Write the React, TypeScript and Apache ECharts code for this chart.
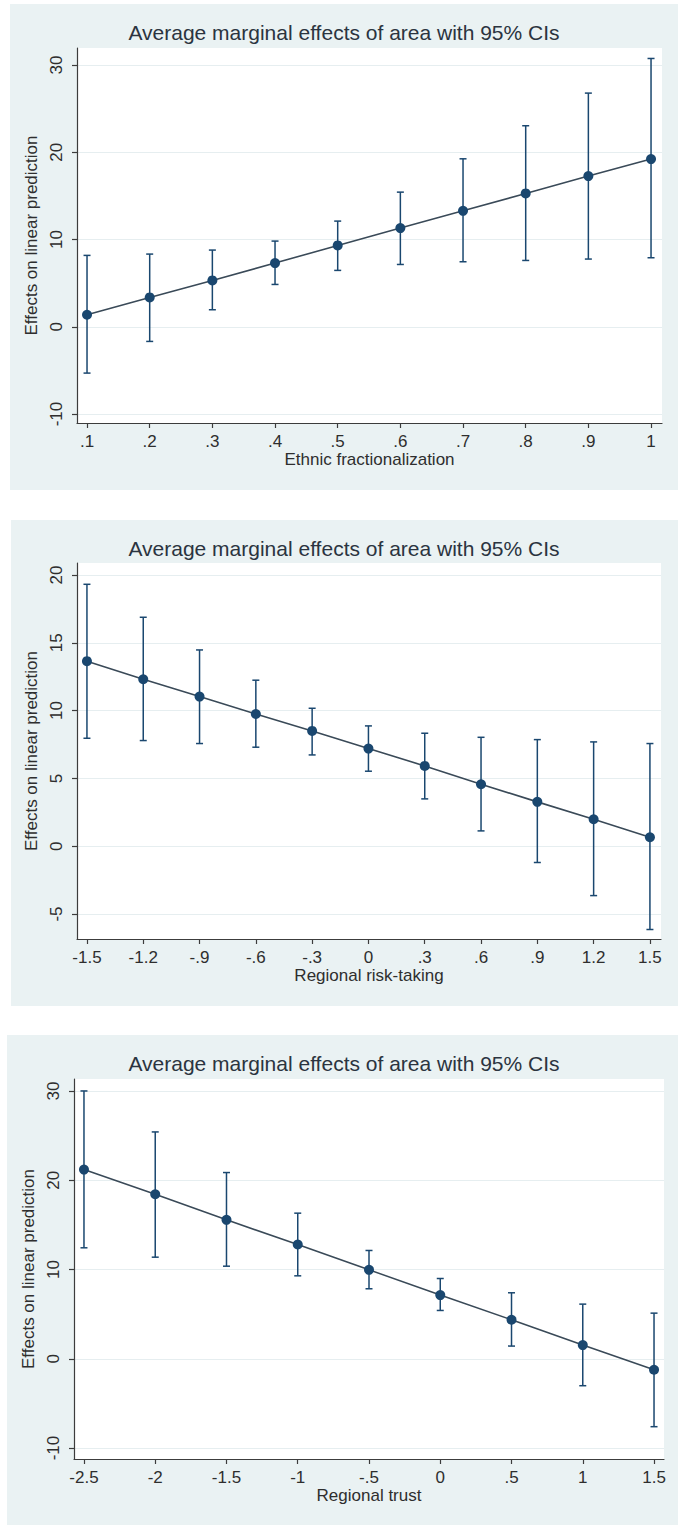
import React, { useEffect, useRef } from "react";
import * as echarts from "echarts";

// ---------- DATA ----------
const TITLE = "Average marginal effects of area with 95% CIs";
const Y_NAME = "Effects on linear prediction";

// Panel 1: Ethnic fractionalization
const x1 = [0.1, 0.2, 0.3, 0.4, 0.5, 0.6, 0.7, 0.8, 0.9, 1.0];
const x1Labels = [".1", ".2", ".3", ".4", ".5", ".6", ".7", ".8", ".9", "1"];
const ef1 = [1.38, 3.36, 5.31, 7.3, 9.32, 11.31, 13.29, 15.28, 17.27, 19.22];
const lo1 = [-5.31, -1.68, 1.95, 4.85, 6.46, 7.14, 7.45, 7.6, 7.76, 7.91];
const hi1 = [8.18, 8.33, 8.79, 9.82, 12.11, 15.43, 19.25, 23.04, 26.78, 30.75];
const y1Ticks = [-10, 0, 10, 20, 30];

// Panel 2: Regional risk-taking
const x2 = [-1.5, -1.2, -0.9, -0.6, -0.3, 0, 0.3, 0.6, 0.9, 1.2, 1.5];
const x2Labels = ["-1.5", "-1.2", "-.9", "-.6", "-.3", "0", ".3", ".6", ".9", "1.2", "1.5"];
const ef2 = [13.64, 12.31, 11.03, 9.75, 8.5, 7.2, 5.92, 4.57, 3.27, 1.99, 0.66];
const lo2 = [7.96, 7.79, 7.57, 7.3, 6.73, 5.53, 3.49, 1.13, -1.2, -3.64, -6.14];
const hi2 = [19.31, 16.88, 14.47, 12.24, 10.17, 8.87, 8.33, 8.03, 7.86, 7.69, 7.57];
const y2Ticks = [-5, 0, 5, 10, 15, 20];

// Panel 3: Regional trust
const x3 = [-2.5, -2, -1.5, -1, -0.5, 0, 0.5, 1, 1.5];
const x3Labels = ["-2.5", "-2", "-1.5", "-1", "-.5", "0", ".5", "1", "1.5"];
const ef3 = [21.19, 18.43, 15.56, 12.8, 9.96, 7.13, 4.37, 1.53, -1.23];
const lo3 = [12.43, 11.38, 10.37, 9.29, 7.84, 5.41, 1.42, -3.02, -7.61];
const hi3 = [30.0, 25.41, 20.86, 16.31, 12.13, 8.99, 7.39, 6.12, 5.11];
const y3Ticks = [-10, 0, 10, 20, 30];

const xNames = ["Ethnic fractionalization", "Regional risk-taking", "Regional trust"];

// ---------- STYLE ----------
const FONT = "Liberation Sans, Arial, sans-serif";
const NAVY = "#1a476f";
const LINE = "#3a4a58";
const AXIS = "#3c3c3c";
const TEXT = "#2e2e2e";
const BG = "#eaf2f3";
const GRIDLINE = "#e6eef0";

function fmt(xs: number[], labels: string[]) {
  return (v: number) => {
    for (let i = 0; i < xs.length; i++) if (Math.abs(xs[i] - v) < 1e-6) return labels[i];
    return "";
  };
}

export default function App() {
  const ref = useRef<HTMLDivElement>(null);
  useEffect(() => {
    document.body.style.margin = "0";
    if (!ref.current) return;
    const chart = echarts.init(ref.current, undefined, { renderer: "svg" });

    const panels = [
      { xs: x1, labels: x1Labels, ef: ef1, lo: lo1, hi: hi1, yt: y1Ticks,
        grid: { left: 77, top: 48, width: 585, height: 375 },
        xr: [0.084, 1.0175], yr: [-11.03, 31.95],
        bg: { x: 10, y: 4, width: 668, height: 486 }, titleY: 32 },
      { xs: x2, labels: x2Labels, ef: ef2, lo: lo2, hi: hi2, yt: y2Ticks,
        grid: { left: 77, top: 563, width: 584, height: 376 },
        xr: [-1.553, 1.559], yr: [-6.84, 20.88],
        bg: { x: 11, y: 520, width: 667, height: 486 }, titleY: 548 },
      { xs: x3, labels: x3Labels, ef: ef3, lo: lo3, hi: hi3, yt: y3Ticks,
        grid: { left: 74, top: 1079, width: 590, height: 380 },
        xr: [-2.57, 1.57], yr: [-11.23, 31.34],
        bg: { x: 7, y: 1035, width: 671, height: 490 }, titleY: 1063 },
    ];

    const grids: any[] = [];
    const xAxes: any[] = [];
    const yAxes: any[] = [];
    const series: any[] = [];
    const graphics: any[] = [];

    panels.forEach((p, gi) => {
      graphics.push({ type: "rect", z: -100, shape: p.bg, style: { fill: BG }, silent: true });
      graphics.push({
        type: "text", z: 100, x: 344, y: p.titleY,
        style: { text: TITLE, align: "center", verticalAlign: "middle", fontSize: 21, fontFamily: FONT, fill: "#2b3440" },
      });
      grids.push({ ...p.grid, show: true, backgroundColor: "#ffffff", borderWidth: 0, containLabel: false });
      xAxes.push({
        type: "value", gridIndex: gi, min: p.xr[0], max: p.xr[1],
        name: xNames[gi], nameLocation: "middle", nameGap: 28,
        nameTextStyle: { fontSize: 17, fontFamily: FONT, color: TEXT },
        axisLine: { show: true, onZero: false, lineStyle: { color: AXIS, width: 1.2 } },
        axisTick: { show: true, length: 5, customValues: p.xs, lineStyle: { color: AXIS, width: 1.2 } },
        axisLabel: { customValues: p.xs, formatter: fmt(p.xs, p.labels), fontSize: 17, fontFamily: FONT, color: TEXT, margin: 10 },
        splitLine: { show: false },
      });
      yAxes.push({
        type: "value", gridIndex: gi, min: p.yr[0], max: p.yr[1],
        name: Y_NAME, nameLocation: "middle", nameGap: 30, nameRotate: 90,
        nameTextStyle: { fontSize: 17, fontFamily: FONT, color: TEXT },
        axisLine: { show: true, onZero: false, lineStyle: { color: AXIS, width: 1.2 } },
        axisTick: { show: true, length: 5, customValues: p.yt, lineStyle: { color: AXIS, width: 1.2 } },
        axisLabel: { customValues: p.yt, rotate: 90, fontSize: 17, fontFamily: FONT, color: TEXT, margin: 12 },
        splitLine: { show: true, lineStyle: { color: GRIDLINE, width: 1 } },
      });
      series.push({
        type: "custom", xAxisIndex: gi, yAxisIndex: gi, z: 2,
        data: p.xs.map((v, i) => [v, p.lo[i], p.hi[i]]),
        encode: { x: 0, y: [1, 2] },
        renderItem: (params: any, api: any) => {
          const x = api.value(0);
          const a = api.coord([x, api.value(1)]);
          const b = api.coord([x, api.value(2)]);
          const w = 3.5;
          const st = { stroke: NAVY, lineWidth: 1.5 };
          return {
            type: "group",
            children: [
              { type: "line", shape: { x1: a[0], y1: a[1], x2: b[0], y2: b[1] }, style: st },
              { type: "line", shape: { x1: a[0] - w, y1: a[1], x2: a[0] + w, y2: a[1] }, style: st },
              { type: "line", shape: { x1: b[0] - w, y1: b[1], x2: b[0] + w, y2: b[1] }, style: st },
            ],
          };
        },
      });
      series.push({
        type: "line", xAxisIndex: gi, yAxisIndex: gi, z: 3,
        data: p.xs.map((v, i) => [v, p.ef[i]]),
        symbol: "circle", symbolSize: 10,
        itemStyle: { color: NAVY },
        lineStyle: { color: LINE, width: 1.6 },
      });
    });

    chart.setOption({
      animation: false,
      grid: grids,
      xAxis: xAxes,
      yAxis: yAxes,
      series,
      graphic: { elements: graphics },
    });
    return () => chart.dispose();
  }, []);
  return <div ref={ref} style={{ width: 678, height: 1525 }} />;
}
